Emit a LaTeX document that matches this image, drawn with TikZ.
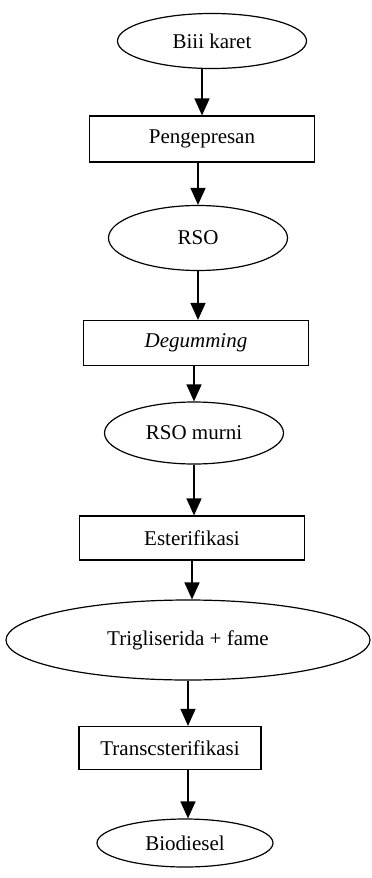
\documentclass[tikz,border=0pt]{standalone}
\usepackage{fontspec}
\setmainfont{Liberation Serif}
\usetikzlibrary{shapes.geometric,arrows.meta}

\begin{document}
\begin{tikzpicture}[x=1pt, y=-1pt,
    bahan/.style={draw, ellipse, line width=1.2pt, inner sep=0pt, font=\fontsize{21}{25}\selectfont},
    proses/.style={draw, rectangle, line width=1.2pt, minimum width=225pt, inner sep=0pt, font=\fontsize{21}{25}\selectfont},
    panah/.style={-{Triangle[width=15pt,length=17pt]}, line width=1.5pt}]
    \useasboundingbox (0,0) rectangle (372,878);
    % Nodes
    \node (biji) [bahan, minimum width=189pt, minimum height=55pt] at (212,41) {Biii karet};
    \node (press) [proses, minimum height=46pt] at (202,139) {Pengepresan};
    \node (rso) [bahan, minimum width=179pt, minimum height=65pt] at (198,238) {RSO};
    \node (degum) [proses, minimum height=45pt] at (196,343) {\textit{Degumming}};
    \node (murni) [bahan, minimum width=179pt, minimum height=62pt] at (194,433) {RSO murni};
    \node (ester) [proses, minimum height=44pt] at (192,538) {Esterifikasi};
    \node (trig) [bahan, minimum width=364pt, minimum height=80pt] at (188,640) {Trigliserida + fame};
    \node (trans) [proses, minimum width=182pt, minimum height=43pt] at (170,748) {Transcsterifikasi};
    \node (bio) [bahan, minimum width=176pt, minimum height=48pt] at (185,843) {Biodiesel};

    % Arrows
    \draw[panah] (press.north |- biji.south) -- (press.north);
    \draw[panah] (press.south -| rso.north) -- (rso.north);
    \draw[panah] (rso.south) -- (rso.south |- degum.north);
    \draw[panah] (degum.south -| murni.north) -- (murni.north);
    \draw[panah] (murni.south) -- (murni.south |- ester.north);
    \draw[panah] (ester.south) -- (ester.south |- trig.north);
    \draw[panah] (trig.south) -- (trig.south |- trans.north);
    \draw[panah] (trans.south -| trig.south) -- (bio.north -| trig.south);
\end{tikzpicture}
\end{document}
